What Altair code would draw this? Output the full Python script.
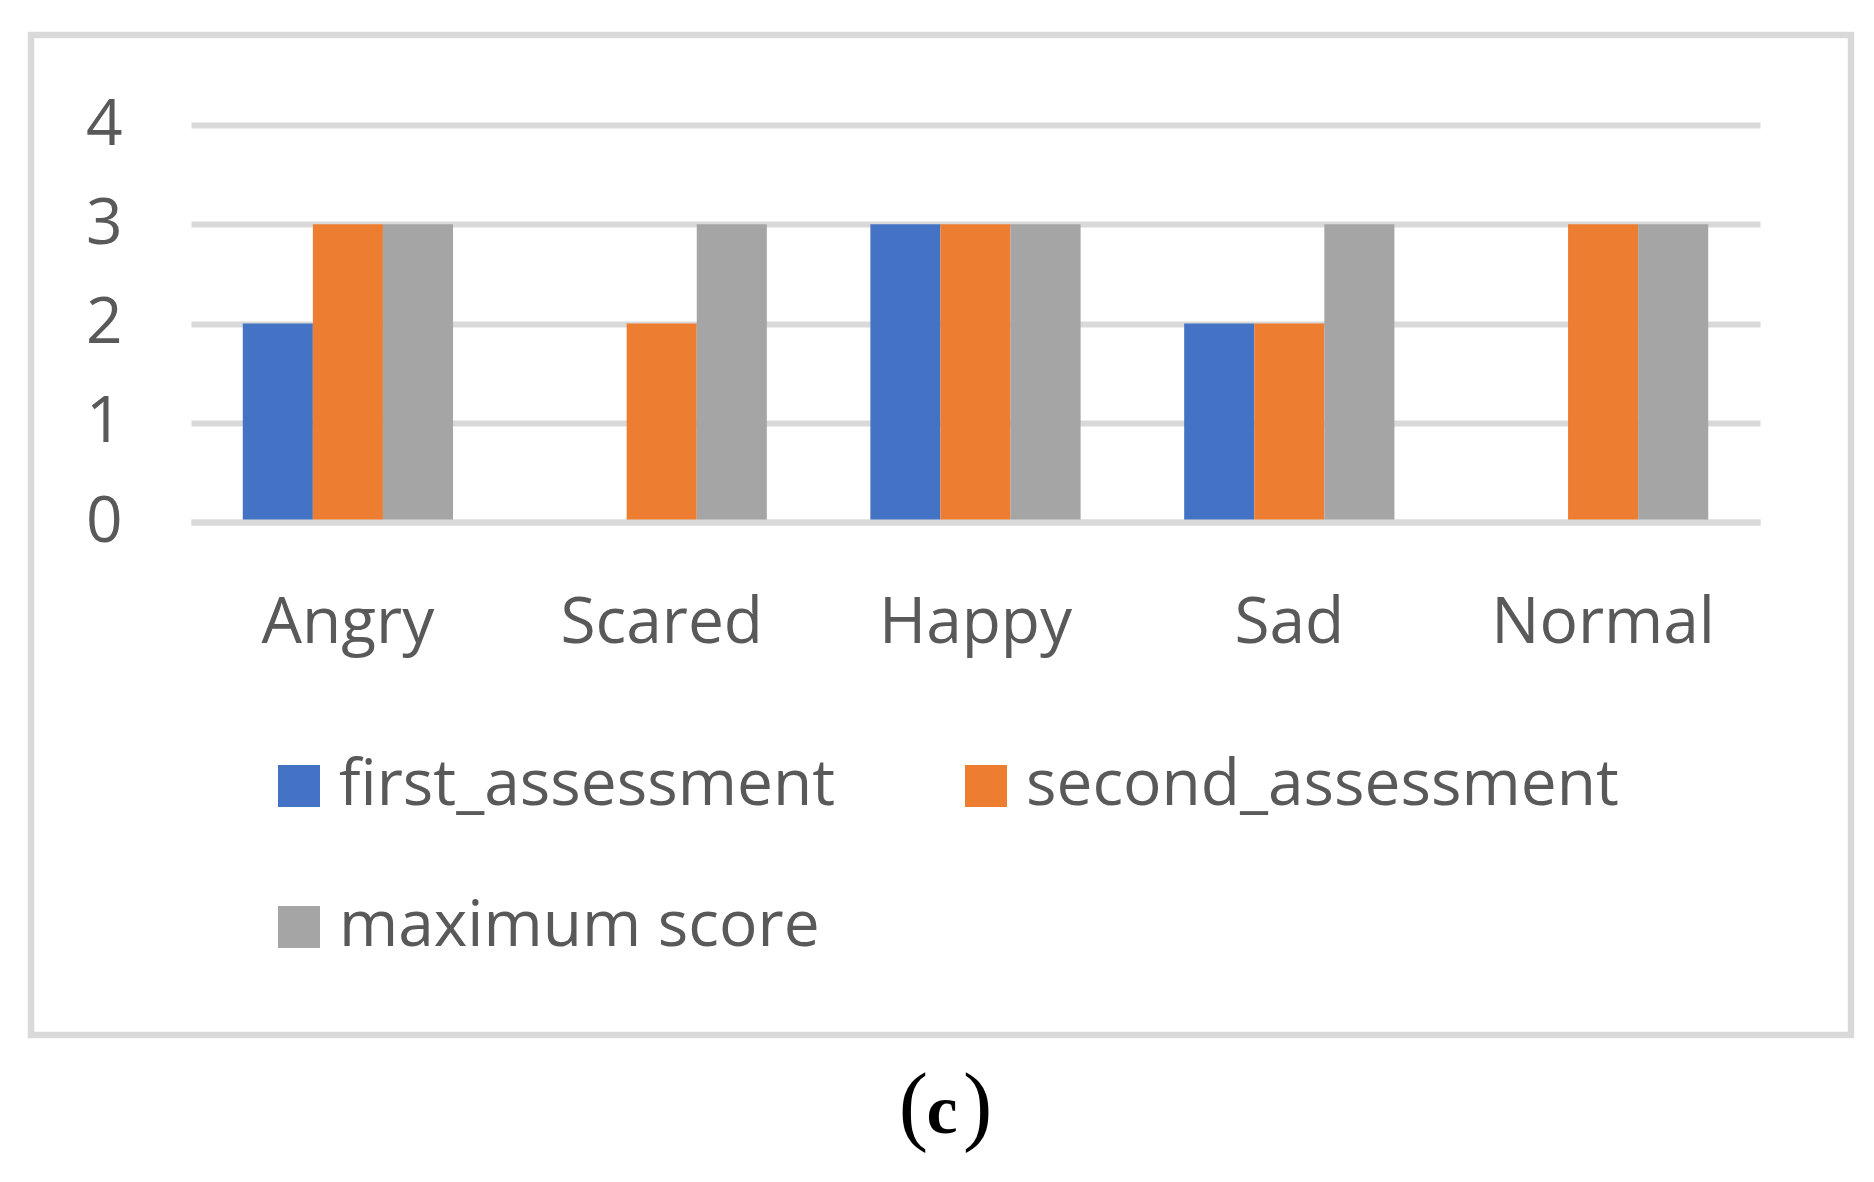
import altair as alt
import pandas as pd

categories = ["Angry", "Scared", "Happy", "Sad", "Normal"]
series_names = ["first_assessment", "second_assessment", "maximum score"]
first_assessment = [2, 0, 3, 2, 0]
second_assessment = [3, 2, 3, 2, 3]
maximum_score = [3, 3, 3, 3, 3]
colors = ["#4472C4", "#ED7D31", "#A5A5A5"]
y_ticks = [0, 1, 2, 3, 4]
caption_letter = "c"

rows = []
for s, vals in zip(series_names, [first_assessment, second_assessment, maximum_score]):
    for c, v in zip(categories, vals):
        rows.append({"category": c, "series": s, "value": v})
df = pd.DataFrame(rows)

FONT = "Open Sans"
TXT = "#595959"
GRID = "#d9d9d9"

bars = alt.Chart(df).mark_bar(strokeWidth=0).encode(
    x=alt.X(
        "category:N", sort=categories,
        scale=alt.Scale(paddingInner=0.33, paddingOuter=0.165),
        axis=alt.Axis(title=None, labelAngle=0, labelFont=FONT, labelFontSize=64,
                      labelColor=TXT, labelPadding=120, labelBaseline="alphabetic",
                      labelLimit=1000, ticks=False, domain=True, domainColor=GRID,
                      domainWidth=6, zindex=1, grid=False),
    ),
    xOffset=alt.XOffset("series:N", sort=series_names,
                        scale=alt.Scale(paddingInner=0, paddingOuter=0)),
    y=alt.Y(
        "value:Q", scale=alt.Scale(domain=[0, 4]),
        axis=alt.Axis(title=None, values=y_ticks, ticks=False, domain=False,
                      gridColor=GRID, gridWidth=6, labelFont=FONT, labelFontSize=64,
                      labelColor=TXT, labelPadding=69, format="d"),
    ),
    color=alt.Color(
        "series:N", sort=series_names,
        scale=alt.Scale(domain=series_names, range=colors),
        legend=alt.Legend(title=None, orient="none", legendX=76, legendY=629,
                          direction="horizontal", columns=2, symbolType="square",
                          symbolSize=1764, symbolStrokeWidth=0, labelFont=FONT,
                          labelFontSize=64, labelColor=TXT, labelOffset=8,
                          columnPadding=119, rowPadding=77, padding=0, labelLimit=2000),
    ),
)

one = alt.Data(values=[{"a": 1}])

frame = alt.Chart(one).mark_rect(fillOpacity=0, stroke=GRID, strokeWidth=6.5).encode(
    x=alt.value(-160), x2=alt.value(1660), y=alt.value(-90), y2=alt.value(910)
)

cap_c = alt.Chart(one).mark_text(text=caption_letter, font="Liberation Serif", fontSize=70,
                                 fontWeight="bold", color="black", align="center",
                                 baseline="alphabetic").encode(
    x=alt.value(751), y=alt.value(1008))
cap_l = alt.Chart(one).mark_text(text="(", font="Liberation Serif", fontSize=88,
                                 color="black", align="right", baseline="alphabetic").encode(
    x=alt.value(737), y=alt.value(1009))
cap_r = alt.Chart(one).mark_text(text=")", font="Liberation Serif", fontSize=88,
                                 color="black", align="left", baseline="alphabetic").encode(
    x=alt.value(772), y=alt.value(1009))

chart = alt.layer(frame, bars, cap_l, cap_c, cap_r).properties(
    width=1569, height=397,
    padding={"left": 183, "top": 117, "right": 100, "bottom": 650},
    autosize=alt.AutoSizeParams(type="none"),
    background="white",
).configure_view(stroke=None)

chart.save("out.html", embed_options={"renderer": "svg", "actions": False})
